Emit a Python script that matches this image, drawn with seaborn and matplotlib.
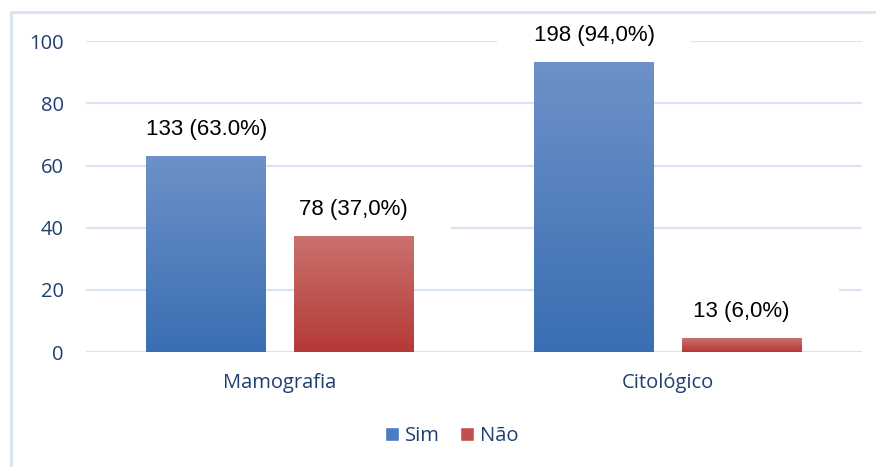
import matplotlib

matplotlib.use("Agg")

import matplotlib.pyplot as plt
import numpy as np
import pandas as pd
import seaborn as sns
from matplotlib.colors import LinearSegmentedColormap
from matplotlib.lines import Line2D
from matplotlib.patches import Patch, Rectangle

# Values
categories = ["Mamografia", "Citológico"]
series = ["Sim", "Não"]
sim_values = [63, 93]
nao_values = [37, 4.5]
labels_sim = ["133 (63.0%)", "198 (94,0%)"]
labels_nao = ["78 (37,0%)", "13 (6,0%)"]

BLUE_TOP, BLUE_BOTTOM = "#6d91c8", "#3a6eb3"
RED_TOP, RED_BOTTOM = "#c9726e", "#b53937"
GRID = "#d9e4f3"
TEXT_BLUE = "#1f3f70"


def main() -> None:
    sns.set_theme(style="white")
    plt.rcParams["font.family"] = ["Open Sans", "DejaVu Sans"]

    df = pd.DataFrame(
        {
            "categoria": categories * 2,
            "resposta": [series[0]] * len(categories) + [series[1]] * len(categories),
            "valor": sim_values + nao_values,
            "rotulo": labels_sim + labels_nao,
        }
    )

    fig = plt.figure(figsize=(8.76, 4.67), dpi=100)
    ax = fig.add_axes([0.098, 0.246, 0.886, 0.666])

    sns.barplot(
        data=df,
        x="categoria",
        y="valor",
        hue="resposta",
        palette=[BLUE_BOTTOM, RED_BOTTOM],
        width=0.76,
        gap=0.19,
        legend=False,
        ax=ax,
        zorder=3,
    )

    # Replace flat bars by a vertical gradient like the original export
    gradients = {
        "Sim": LinearSegmentedColormap.from_list("sim", [BLUE_BOTTOM, BLUE_TOP]),
        "Não": LinearSegmentedColormap.from_list("nao", [RED_BOTTOM, RED_TOP]),
    }
    grad = np.linspace(0, 1, 256).reshape(-1, 1)
    bars = [p for p in ax.patches if isinstance(p, Rectangle)]
    order = []
    for s in series:
        for c in categories:
            order.append((s, c))
    for patch, (s, c) in zip(bars, order):
        x0, w, h = patch.get_x(), patch.get_width(), patch.get_height()
        patch.set_visible(False)
        ax.imshow(
            grad,
            cmap=gradients[s],
            origin="lower",
            aspect="auto",
            extent=[x0, x0 + w, 0, h],
            zorder=3,
            interpolation="bicubic",
        )
        row = df[(df["resposta"] == s) & (df["categoria"] == c)].iloc[0]
        yc = h + 8.7
        ax.add_patch(
            Rectangle((x0 + w / 2 - 0.25, yc - 7.3), 0.5, 14.6,
                      facecolor="white", edgecolor="none", zorder=2, clip_on=False)
        )
        ax.text(
            x0 + w / 2, yc, row["rotulo"],
            ha="center", va="center", fontsize=16, color="black",
            family=["Liberation Sans", "DejaVu Sans"], zorder=4, clip_on=False,
        )

    ax.set_xlim(-0.5, 1.5)
    ax.set_ylim(0, 100)
    ax.set_yticks([0, 20, 40, 60, 80, 100])
    for yv in [0, 20, 40, 60, 80, 100]:
        ax.axhline(yv, color=GRID, lw=1.6, zorder=1)

    for sp in ax.spines.values():
        sp.set_visible(False)
    ax.grid(False)
    ax.set_xlabel("")
    ax.set_ylabel("")
    ax.tick_params(axis="y", length=0, pad=16, labelsize=14.5, labelcolor=TEXT_BLUE)
    ax.tick_params(axis="x", length=0, pad=15, labelsize=14.5, labelcolor=TEXT_BLUE)

    handles = [
        Patch(facecolor="#4a7cbf", label="Sim"),
        Patch(facecolor="#c0504d", label="Não"),
    ]
    fig.legend(
        handles=handles,
        loc="center",
        bbox_to_anchor=(0.516, 0.066),
        ncol=2,
        frameon=False,
        fontsize=14.5,
        labelcolor=TEXT_BLUE,
        handlelength=0.7,
        handleheight=0.7,
        handletextpad=0.3,
        columnspacing=1.0,
    )

    # Light chart frame (left and top edges visible in the crop)
    fig.add_artist(Line2D([11 / 876, 11 / 876], [0, 1 - 12 / 467],
                          color=GRID, lw=2, transform=fig.transFigure))
    fig.add_artist(Line2D([11 / 876, 1], [1 - 12 / 467, 1 - 12 / 467],
                          color=GRID, lw=2, transform=fig.transFigure))

    fig.savefig("out.png", dpi=100, facecolor="white")
    plt.close(fig)


if __name__ == "__main__":
    main()
